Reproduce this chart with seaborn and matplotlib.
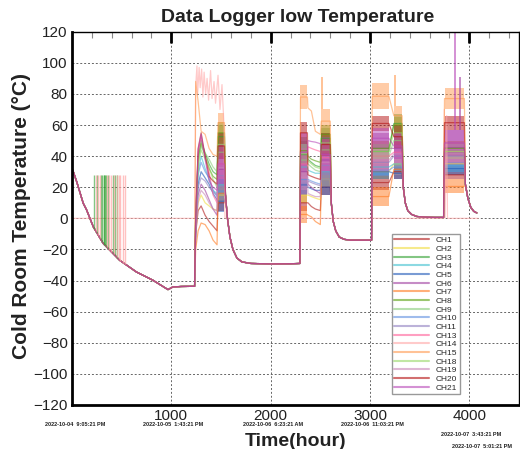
import numpy as np
import pandas as pd
import matplotlib
matplotlib.use("Agg")
import matplotlib.pyplot as plt
from matplotlib.lines import Line2D
from matplotlib.ticker import MultipleLocator, FixedLocator
import seaborn as sns

# ---------------- data ----------------
CHANNELS = ["CH1", "CH2", "CH3", "CH4", "CH5", "CH6", "CH7", "CH8", "CH9", "CH10",
            "CH11", "CH13", "CH14", "CH15", "CH18", "CH19", "CH20", "CH21"]
COLORS = ["#b01818", "#f0dc40", "#30a030", "#40c0d0", "#2058b8", "#a040a0", "#ff7a20",
          "#58a010", "#88cc78", "#6090e0", "#9080c0", "#ff6098", "#ffa8a8", "#ff9a50",
          "#98d868", "#c888b8", "#b41010", "#b848b8"]

# shared cooling profile before first heating
T_COOL = [0, 13, 47, 113, 147, 214, 314, 481, 649, 815, 966, 1016, 1100, 1217, 1234]
Y_COOL = [32, 30, 23.6, 9.7, 5.4, -5.4, -16.1, -27, -34.5, -39.8, -45.8, -44.1, -43.8, -43.7, -43.7]

# heating 1: individual lines
P1_T = [1245, 1270, 1300, 1340, 1380, 1420, 1460]
P1_Y = [[-10, 5, 8, 2, -2, -5, -8], [-10, 10, 15, 10, 8, 6, 5], [0, 40, 50, 42, 35, 30, 28],
        [-5, 30, 40, 32, 25, 18, 16], [-8, 22, 30, 26, 22, 16, 12], [-10, 15, 22, 18, 12, 6, 2],
        [-20, -8, -3, -4, -8, -14, -17], [0, 38, 48, 40, 32, 27, 25], [0, 36, 46, 42, 38, 33, 30],
        [-5, 28, 36, 30, 26, 18, 14], [-5, 20, 26, 24, 20, 17, 15], [0, 42, 52, 40, 30, 15, 10],
        None, [88, 75, 56, 54, 45, 41, 40], [0, 34, 44, 38, 33, 25, 20], [-10, 12, 18, 15, 10, 6, 5],
        [0, 45, 55, 40, 27, 24, 22], [0, 44, 54, 38, 24, 20, 18]]
# dense oscillating blocks: (low, high) per channel
B1_T = [1470, 1535]
B1 = [(5, 15), (10, 20), (45, 60), (15, 28), (4, 18), (18, 45), (10, 22), (48, 62), (35, 50),
      (10, 25), (20, 35), (25, 45), None, (55, 68), (40, 55), (25, 40), (38, 55), (22, 48)]
D1_T = [1545, 1565, 1590, 1620, 1660, 1710, 1800, 2000, 2200, 2294]
D1_Y = [15, 0, -12, -20, -25.5, -28, -29, -29.3, -29.2, -29]

B2A_T = [2300, 2370]
B2A = [(5, 15), (10, 20), (32, 50), (28, 38), (15, 28), (15, 45), (-3, 8), (35, 52), (30, 45),
       (20, 30), (15, 30), (25, 45), None, (70, 86), (35, 48), (18, 35), (48, 62), (30, 55)]
P2_T = [2375, 2410, 2450, 2500]
P2_Y = [[10, 7.6, 6, 5], [15, 14, 13, 12], [38, 36, 34, 33], [31, 30, 29, 29], [20, 19, 18, 18],
        [22, 20, 18, 16], [2, 1, -2, -4], [40, 38, 37, 36], [35, 33, 31, 30], [25, 24, 23, 22],
        [24, 23, 22, 21], [46, 45, 44, 43], None, [71, 69, 56, 54], [37, 35, 33, 32],
        [16, 15, 14, 14], [28, 27, 26, 25], [50, 49.4, 49, 48]]
B2B_T = [2510, 2600]
B2B = [(15, 25), (20, 30), (45, 58), (25, 35), (15, 25), (25, 50), (20, 30), (48, 60), (38, 50),
       (20, 30), (28, 40), (30, 48), None, (55, 70), (42, 55), (30, 42), (40, 55), (30, 52)]
D2_T = [2610, 2630, 2655, 2690, 2740, 2800, 2900, 3016]
D2_Y = [10, -2, -8, -12, -13.5, -14, -14, -14]

B3A_T = [3022, 3190]
B3A = [(18, 28), (25, 35), (38, 48), (28, 38), (25, 35), (35, 55), (8, 20), (40, 50), (35, 45),
       (27, 35), (30, 42), (30, 50), None, (70, 87), (38, 48), (30, 45), (56, 66), (45, 58)]
B3B_T = [3240, 3323]
B3B = [(25, 35), (30, 40), (55, 67), (30, 40), (25, 33), (35, 55), (28, 35), (55, 65), (45, 55),
       (28, 38), (35, 45), (35, 50), None, (60, 72), (50, 60), (35, 48), (45, 60), (38, 55)]
D3_T = [3335, 3355, 3380, 3420, 3470, 3550, 3650, 3741]
D3_Y = [20, 10, 5, 2.5, 1.2, 0.8, 0.6, 0.6]

B4_T = [3750, 3950]
B4 = [(25, 31), (30, 40), (38, 48), (30, 38), (28, 36), (34, 57), (16, 25), (40, 50), (38, 48),
      (30, 38), (35, 45), (36, 50), None, (70, 84), (38, 48), (35, 48), (57, 66), (40, 57)]
D4_T = [3960, 3985, 4015, 4045, 4075]
D4_Y = [22, 13, 7, 4.5, 3.5]

# CH14: stuck near 0 with bursts of spikes
CH14_T = [0, 1238, 1245, 1258, 1265, 1280, 1290, 1305, 1318, 1330, 1345, 1360, 1375, 1395,
          1410, 1430, 1445, 1470, 1490, 1510, 1530, 1540, 3740, 3748, 3756, 3772, 3780, 4090]
CH14_Y = [0, 0, 85, 98, 80, 97, 84, 96, 78, 94, 80, 90, 76, 95, 77, 88, 74, 92, 70, 86, 60, 0,
          0, 70, 0, 66, 0, 0]

# short spikes during the first cooling
SPIKE_GREEN_T = [225, 250, 290, 305, 318, 325, 332, 345, 365, 410, 430, 455]
SPIKE_PINK_T = [240, 265, 280, 350, 375, 395, 420, 448, 470, 485, 515, 535]
SPIKE_TOP = 28
# isolated spikes during heating: (channel, time, peak)
HOT_SPIKES = [("CH15", 2520, 91), ("CH15", 3256, 92), ("CH21", 3855, 125), ("CH6", 3910, 91)]

DATE_LABELS = ["2022-10-04  9:05:21 PM", "2022-10-05  1:43:21 PM", "2022-10-06  6:23:21 AM",
               "2022-10-06  11:03:21 PM", "2022-10-07  3:43:21 PM", "2022-10-07  5:01:21 PM"]
X_TICKS = [1000, 2000, 3000, 4000]

# ---------------- build long table ----------------
rows = []
blocks = [(B1_T, B1), (B2A_T, B2A), (B2B_T, B2B), (B3A_T, B3A), (B3B_T, B3B), (B4_T, B4)]
for i, ch in enumerate(CHANNELS):
    if ch == "CH14":
        ts, ys = list(CH14_T), list(CH14_Y)
    else:
        m = lambda b: (b[i][0] + b[i][1]) / 2
        ts = (T_COOL + P1_T + B1_T + D1_T + B2A_T + P2_T + B2B_T + D2_T +
              B3A_T + B3B_T + D3_T + B4_T + D4_T)
        ys = (Y_COOL + P1_Y[i] + [m(B1)] * 2 + D1_Y + [m(B2A)] * 2 + P2_Y[i] + [m(B2B)] * 2 +
              D2_Y + [m(B3A)] * 2 + [m(B3B)] * 2 + D3_Y + [m(B4)] * 2 + D4_Y)
    for t, y in zip(ts, ys):
        rows.append({"t": t, "temp": y, "ch": ch})
df = pd.DataFrame(rows)

# ---------------- plot ----------------
sns.set_theme(style="white")
plt.rcParams["font.family"] = ["Liberation Sans", "DejaVu Sans"]

fig = plt.figure(figsize=(5.2, 4.49), dpi=100)
ax = fig.add_axes([72 / 520, 44 / 449, 447 / 520, 373.3 / 449])
ax.set_axisbelow(True)

palette = dict(zip(CHANNELS, COLORS))
ALPHA = 0.6
sns.lineplot(data=df, x="t", y="temp", hue="ch", palette=palette, estimator=None,
             sort=False, legend=False, lw=0.9, alpha=ALPHA, ax=ax)

for bt, vals in blocks:
    for i, ch in enumerate(CHANNELS):
        if vals[i] is None:
            continue
        lo, hi = vals[i]
        ax.fill_between(bt, [lo, lo], [hi, hi], color=COLORS[i], alpha=0.5, lw=0)

lowg = np.interp(SPIKE_GREEN_T, T_COOL, Y_COOL)
ax.vlines(SPIKE_GREEN_T, lowg, SPIKE_TOP, color=palette["CH3"], lw=1.0, alpha=0.6)
lowp = np.interp(SPIKE_PINK_T, T_COOL, Y_COOL)
ax.vlines(SPIKE_PINK_T, lowp, SPIKE_TOP, color=palette["CH14"], lw=1.0, alpha=0.7)

for ch, t, peak in HOT_SPIKES:
    i = CHANNELS.index(ch)
    base = None
    for bt, vals in blocks:
        if bt[0] <= t <= bt[1]:
            base = vals[i][1]
    ax.vlines([t], base, peak, color=palette[ch], lw=1.2, alpha=0.7)

ax.set_xlim(0, 4500)
ax.set_ylim(-120, 120)
ax.xaxis.set_major_locator(FixedLocator(X_TICKS))
ax.xaxis.set_minor_locator(MultipleLocator(200))
ax.yaxis.set_major_locator(MultipleLocator(20))
ax.yaxis.set_minor_locator(MultipleLocator(5))
ax.set_xticklabels([str(v) for v in X_TICKS])
ax.tick_params(which="major", direction="in", length=8, width=2, color="black",
               top=True, right=False, labelsize=11, labelcolor="#222222", pad=3)
ax.tick_params(which="minor", direction="in", length=4, width=0.8, color="#888888",
               top=True, right=False)
ax.grid(True, which="major", color="#666666", linestyle=(0, (2, 2)), lw=0.7)
for s in ["left", "bottom"]:
    ax.spines[s].set_linewidth(2)
    ax.spines[s].set_color("black")
for s in ["top", "right"]:
    ax.spines[s].set_linewidth(1)
    ax.spines[s].set_color("black")
ax.set_xlabel("")
ax.set_ylabel("")

fig.text(298 / 520, 1 - 18 / 449, "Data Logger low Temperature", ha="center", va="center",
         fontsize=14, fontweight="bold", color="#222222")
fig.text(296 / 520, 1 - 441 / 449, "Time(hour)", ha="center", va="center",
         fontsize=14, fontweight="bold", color="#222222")
fig.text(22 / 520, 1 - 216 / 449, "Cold Room Temperature (°C)", ha="center", va="center",
         rotation=90, fontsize=15, fontweight="bold", color="#222222")

date_pos = [(75, 425), (173, 425), (273, 425), (372, 425), (471, 435), (482, 446)]
for (px, py), lab in zip(date_pos, DATE_LABELS):
    fig.text(px / 520, 1 - py / 449, lab, ha="center", va="center", fontsize=4.0,
             fontweight="bold", color="#222222")

handles = [Line2D([0], [0], color=c, lw=1.5, alpha=ALPHA) for c in COLORS]
leg = ax.legend(handles, CHANNELS, loc="upper left", bbox_to_anchor=(391.7 / 520, 1 - 234 / 449),
                bbox_transform=fig.transFigure, borderaxespad=0, fontsize=6, handlelength=4.2,
                handletextpad=0.8, labelspacing=0.1, borderpad=0.3, frameon=True,
                fancybox=False, edgecolor="#999999", framealpha=1)
leg.get_frame().set_linewidth(1)

fig.savefig("out.png", dpi=100)
